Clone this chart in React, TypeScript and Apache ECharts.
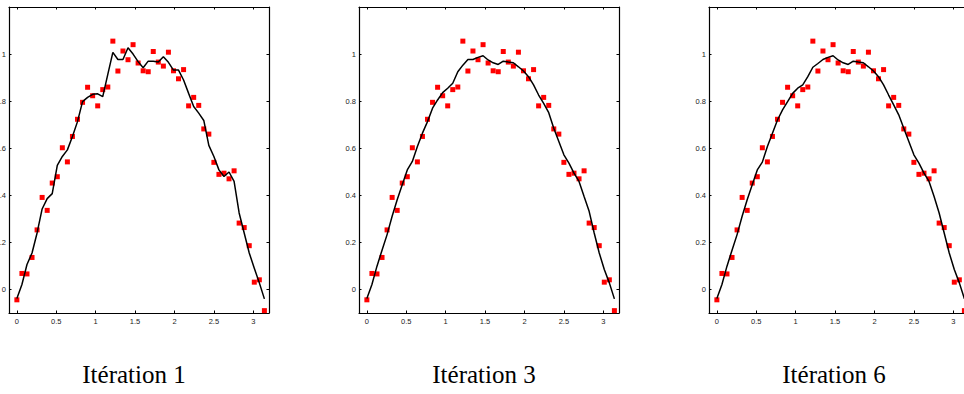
import React, { useEffect, useRef } from "react";
import * as echarts from "echarts";

const N = 50;
const xValues: number[] = Array.from({ length: N }, (_, i) => (i * Math.PI) / (N - 1));

const measured: number[] = [
  -0.044, 0.068, 0.066, 0.136, 0.253, 0.391, 0.336, 0.452, 0.479, 0.602,
  0.542, 0.65, 0.723, 0.795, 0.859, 0.823, 0.78, 0.849, 0.86, 1.055,
  0.928, 1.013, 0.976, 1.04, 0.962, 0.929, 0.925, 1.011, 0.966, 0.949,
  1.008, 0.929, 0.895, 0.934, 0.78, 0.816, 0.782, 0.682, 0.66, 0.54,
  0.489, 0.494, 0.47, 0.504, 0.282, 0.263, 0.186, 0.031, 0.041, -0.09,
];

const fitIter1: number[] = [
  -0.038, 0.021, 0.106, 0.155, 0.24, 0.342, 0.386, 0.407, 0.527, 0.565,
  0.593, 0.65, 0.713, 0.798, 0.816, 0.829, 0.831, 0.819, 0.914, 1.007,
  0.977, 0.977, 1.027, 1.0, 0.968, 0.942, 0.97, 0.97, 0.966, 0.989,
  0.965, 0.932, 0.932, 0.89, 0.833, 0.777, 0.749, 0.718, 0.612, 0.565,
  0.508, 0.48, 0.499, 0.459, 0.325, 0.24, 0.155, 0.09, 0.028, -0.04,
];

const fitIter3: number[] = [
  -0.038, 0.021, 0.099, 0.167, 0.233, 0.311, 0.381, 0.445, 0.508, 0.544,
  0.607, 0.664, 0.713, 0.77, 0.805, 0.836, 0.855, 0.876, 0.925, 0.953,
  0.977, 0.977, 0.986, 0.993, 0.975, 0.963, 0.956, 0.97, 0.966, 0.963,
  0.946, 0.928, 0.904, 0.869, 0.826, 0.791, 0.751, 0.685, 0.629, 0.572,
  0.537, 0.494, 0.459, 0.395, 0.332, 0.24, 0.155, 0.085, 0.028, -0.04,
];

const fitIter6: number[] = [
  -0.038, 0.021, 0.099, 0.167, 0.233, 0.311, 0.381, 0.445, 0.508, 0.541,
  0.607, 0.664, 0.72, 0.763, 0.798, 0.833, 0.855, 0.869, 0.904, 0.944,
  0.96, 0.977, 0.986, 0.993, 0.975, 0.963, 0.956, 0.97, 0.966, 0.963,
  0.946, 0.928, 0.904, 0.869, 0.826, 0.784, 0.742, 0.685, 0.629, 0.572,
  0.537, 0.494, 0.459, 0.395, 0.325, 0.24, 0.155, 0.085, 0.028, -0.04,
];

const panelTitles: string[] = ["Itération 1", "Itération 3", "Itération 6"];
const xTicks: number[] = [0, 0.5, 1, 1.5, 2, 2.5, 3];
const yTicks: number[] = [0, 0.2, 0.4, 0.6, 0.8, 1];

export default function App() {
  const ref = useRef<HTMLDivElement>(null);
  useEffect(() => {
    if (!ref.current) return;
    const chart = echarts.init(ref.current, null, { renderer: "svg" });
    const fits = [fitIter1, fitIter3, fitIter6];
    const panelLeft = [9, 359, 709];
    const gridW = 260;
    const gridTop = 7;
    const gridH = 306;
    const labelFont = { fontFamily: "Liberation Sans", fontSize: 7.5, color: "#222" };
    const lineStyle = { color: "#000", width: 1.2 };
    const tickStyle = { color: "#000", width: 1 };

    const grid: any[] = [];
    const xAxis: any[] = [];
    const yAxis: any[] = [];
    const series: any[] = [];
    const graphic: any[] = [];

    fits.forEach((fit, i) => {
      grid.push({
        left: panelLeft[i],
        top: gridTop,
        width: gridW,
        height: gridH,
        containLabel: false,
        outerBoundsMode: "none",
      });
      const base = {
        type: "value",
        gridIndex: i,
        splitLine: { show: false },
        axisLine: { show: true, onZero: false, lineStyle },
      };
      xAxis.push({
        ...base,
        position: "bottom",
        min: -0.1,
        max: 3.2,
        axisTick: { show: true, inside: true, length: 2.5, lineStyle: tickStyle, customValues: xTicks },
        axisLabel: { ...labelFont, margin: 4, customValues: xTicks, formatter: (v: number) => String(v) },
      });
      xAxis.push({
        ...base,
        position: "top",
        min: -0.1,
        max: 3.2,
        axisTick: { show: true, inside: true, length: 2.5, lineStyle: tickStyle, customValues: xTicks },
        axisLabel: { show: false },
      });
      yAxis.push({
        ...base,
        position: "left",
        min: -0.1,
        max: 1.2,
        axisTick: { show: true, inside: true, length: 2.5, lineStyle: tickStyle, customValues: yTicks },
        axisLabel: { ...labelFont, margin: 3, customValues: yTicks, formatter: (v: number) => String(v) },
      });
      yAxis.push({
        ...base,
        position: "right",
        min: -0.1,
        max: 1.2,
        axisTick: { show: true, inside: true, length: 2.5, lineStyle: tickStyle, customValues: yTicks },
        axisLabel: { show: false },
      });
      series.push({
        type: "scatter",
        xAxisIndex: 2 * i,
        yAxisIndex: 2 * i,
        symbol: "rect",
        symbolSize: 5,
        itemStyle: { color: "#ff0000", opacity: 1 },
        data: xValues.map((x, k) => [x, measured[k]]),
        z: 2,
      });
      series.push({
        type: "line",
        xAxisIndex: 2 * i,
        yAxisIndex: 2 * i,
        symbol: "none",
        lineStyle: { color: "#000", width: 1.5 },
        data: xValues.map((x, k) => [x, fit[k]]),
        z: 3,
      });
      graphic.push({
        type: "text",
        x: panelLeft[i] + gridW / 2 - 5,
        y: 374,
        style: {
          text: panelTitles[i],
          fontFamily: "Liberation Serif",
          fontSize: 25,
          fill: "#000",
          align: "center",
          verticalAlign: "middle",
        },
      });
    });

    chart.setOption({
      animation: false,
      backgroundColor: "#fff",
      grid,
      xAxis,
      yAxis,
      series,
      graphic,
    });
    return () => chart.dispose();
  }, []);
  return (
    <div
      ref={ref}
      style={{ position: "absolute", left: 0, top: 0, width: 964, height: 394 }}
    />
  );
}
